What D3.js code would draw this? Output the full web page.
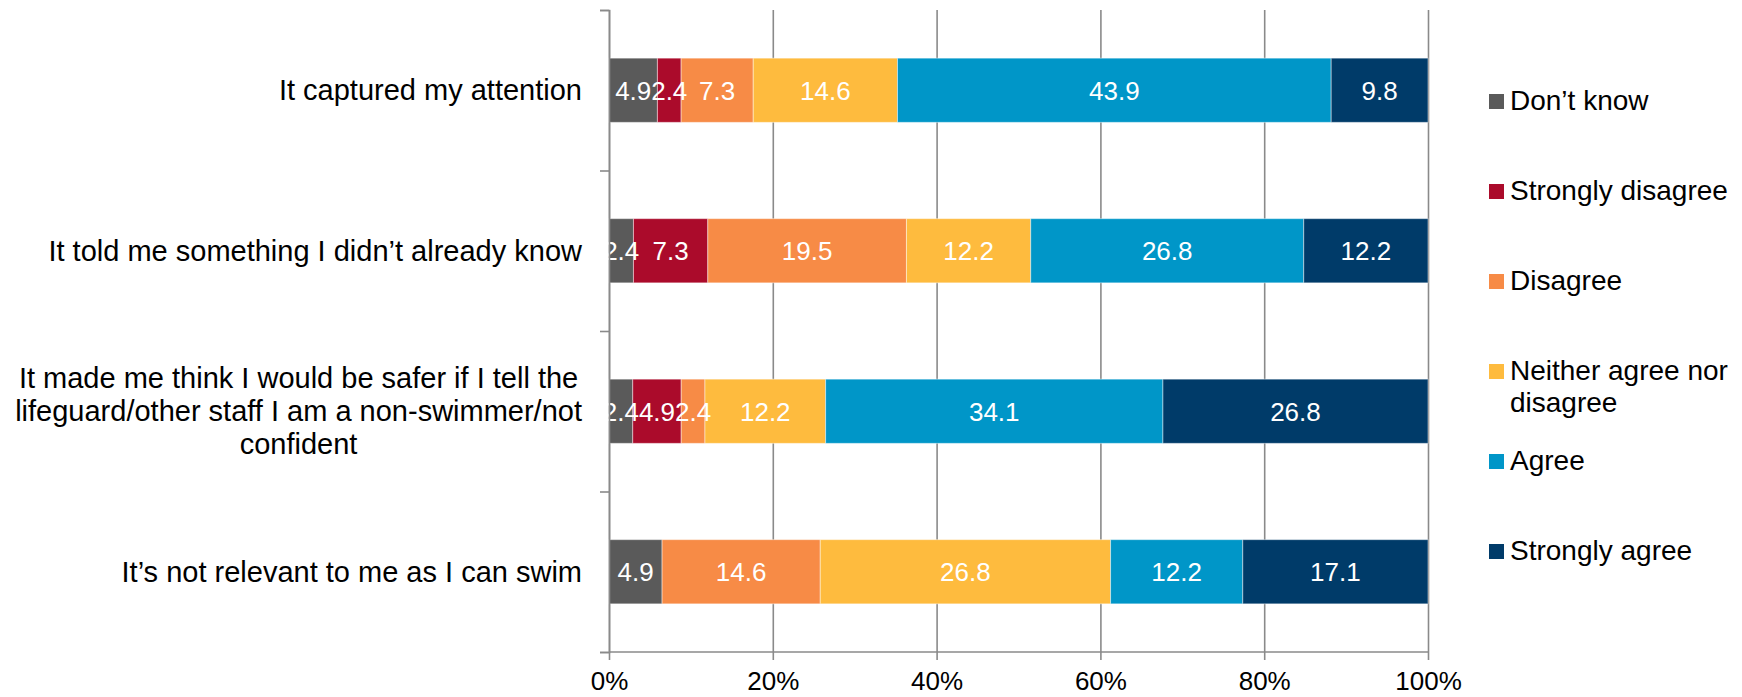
<!DOCTYPE html>
<html>
<head>
<meta charset="utf-8">
<script src="https://cdn.jsdelivr.net/npm/d3@7/dist/d3.min.js"></script>
<style>
  html, body { margin: 0; padding: 0; background: #fff; }
  svg { display: block; font-family: "Liberation Sans", Arial, sans-serif; }
</style>
</head>
<body>
<svg id="chart" width="1742" height="697"></svg>
<script>
/* ── Data ───────────────────────────────────────────────────────── */
const categories = [
  'It captured my attention',
  'It told me something I didn’t already know',
  'It made me think I would be safer if I tell the|lifeguard/other staff I am a non-swimmer/not|confident',
  'It’s not relevant to me as I can swim'
];
const seriesNames = ['Don’t know', 'Strongly disagree', 'Disagree', 'Neither agree nor|disagree', 'Agree', 'Strongly agree'];
const seriesColors = ['#5a5a5a', '#ab0b2b', '#f78b46', '#febb3e', '#0096c8', '#003b69'];

const dontKnow         = [4.9, 2.4, 2.4, 4.9];
const stronglyDisagree = [2.4, 7.3, 4.9, 0];
const disagree         = [7.3, 19.5, 2.4, 14.6];
const neither          = [14.6, 12.2, 12.2, 26.8];
const agree            = [43.9, 26.8, 34.1, 12.2];
const stronglyAgree    = [9.8, 12.2, 26.8, 17.1];

const xTicks = [0, 0.2, 0.4, 0.6, 0.8, 1];

/* ── Layout ─────────────────────────────────────────────────────── */
const plotL = 609, plotR = 1428, plotT = 10, plotB = 652;
const svg = d3.select('#chart');

const seriesVals = [dontKnow, stronglyDisagree, disagree, neither, agree, stronglyAgree];

// rows for d3.stack, normalised to 100%
const rows = categories.map((c, i) => {
  const r = { cat: c };
  seriesNames.forEach((s, k) => { r[s] = seriesVals[k][i]; });
  return r;
});
const stack = d3.stack().keys(seriesNames).offset(d3.stackOffsetExpand);
const layers = stack(rows);

const x = d3.scaleLinear().domain([0, 1]).range([plotL, plotR]);
const y = d3.scaleBand().domain(categories).range([plotT, plotB])
  .paddingInner(0.6).paddingOuter(0.3);
const yb = d3.scaleLinear().domain([0, categories.length]).range([plotT, plotB]);

/* ── Gridlines ──────────────────────────────────────────────────── */
svg.append('g')
  .attr('transform', `translate(0,${plotB})`)
  .call(d3.axisBottom(x).tickValues(xTicks).tickSize(-(plotB - plotT)).tickFormat(''))
  .call(g => g.select('.domain').remove())
  .call(g => g.selectAll('line').attr('stroke', '#8a8a8a').attr('stroke-width', 1.6));

/* ── Bars ───────────────────────────────────────────────────────── */
const gBars = svg.append('g');
layers.forEach((layer, k) => {
  gBars.append('g')
    .attr('fill', seriesColors[k])
    .selectAll('rect').data(layer).join('rect')
    .attr('x', d => x(d[0]))
    .attr('y', d => y(d.data.cat))
    .attr('width', d => Math.max(0, x(d[1]) - x(d[0])))
    .attr('height', y.bandwidth())
    .attr('stroke', 'rgba(255,255,255,0.45)')
    .attr('stroke-width', 1);
});

// data labels
layers.forEach((layer, k) => {
  svg.append('g')
    .selectAll('text').data(layer.filter(d => d.data[seriesNames[k]] > 0)).join('text')
    .attr('x', d => (x(d[0]) + x(d[1])) / 2)
    .attr('y', d => y(d.data.cat) + y.bandwidth() / 2)
    .attr('dy', '0.36em')
    .attr('text-anchor', 'middle')
    .attr('fill', '#fff')
    .attr('font-size', '26px')
    .text(d => d3.format('.1f')(d.data[seriesNames[k]]));
});

/* ── Axes ───────────────────────────────────────────────────────── */
svg.append('g')
  .attr('transform', `translate(${plotL},0)`)
  .call(d3.axisLeft(yb).ticks(categories.length).tickSize(9).tickFormat(''))
  .call(g => g.select('.domain').attr('stroke', '#8a8a8a').attr('stroke-width', 1.6))
  .call(g => g.selectAll('line').attr('stroke', '#8a8a8a').attr('stroke-width', 1.6));

svg.append('g')
  .attr('transform', `translate(0,${plotB})`)
  .call(d3.axisBottom(x).tickValues(xTicks).tickSize(8).tickPadding(12).tickFormat(d3.format('.0%')))
  .call(g => g.select('.domain').attr('d', `M${plotL},0H${plotR}`).attr('stroke', '#8a8a8a').attr('stroke-width', 1.6))
  .call(g => g.selectAll('line').attr('stroke', '#8a8a8a').attr('stroke-width', 1.6))
  .call(g => g.selectAll('text').attr('fill', '#000').attr('font-size', '26px')
    .attr('font-family', '"Liberation Sans", Arial, sans-serif'));

/* ── Category labels ────────────────────────────────────────────── */
const labelRight = 582, lineH = 33;
categories.forEach(c => {
  const lines = c.split('|');
  const cy = y(c) + y.bandwidth() / 2;
  const t = svg.append('text')
    .attr('font-size', '29px')
    .attr('fill', '#000');
  lines.forEach((ln, i) => {
    t.append('tspan')
      .attr('y', cy + (i - (lines.length - 1) / 2) * lineH)
      .attr('dy', '0.35em')
      .text(ln);
  });
  if (lines.length === 1) {
    t.attr('text-anchor', 'end').selectAll('tspan').attr('x', labelRight);
  } else {
    const maxW = d3.max(t.selectAll('tspan').nodes(), n => n.getComputedTextLength());
    t.attr('text-anchor', 'middle').selectAll('tspan').attr('x', labelRight - maxW / 2);
  }
});

/* ── Legend ─────────────────────────────────────────────────────── */
const legendX = 1489, legendY0 = 110, legendStep = 90;
const legend = svg.append('g');
seriesNames.forEach((s, k) => {
  const by = legendY0 + k * legendStep;
  legend.append('rect')
    .attr('x', legendX).attr('y', by - 16)
    .attr('width', 15).attr('height', 15)
    .attr('fill', seriesColors[k]);
  const t = legend.append('text').attr('font-size', '28px').attr('fill', '#000');
  s.split('|').forEach((ln, i) => {
    t.append('tspan').attr('x', legendX + 21).attr('y', by + i * 32).text(ln);
  });
});
</script>
</body>
</html>
